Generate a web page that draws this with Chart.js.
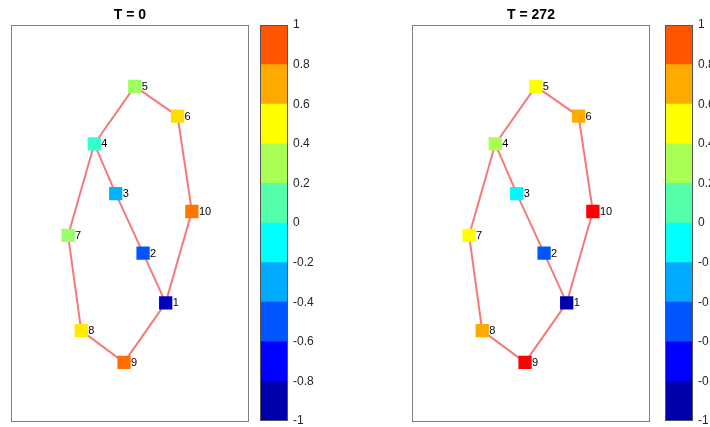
<!DOCTYPE html>
<html>
<head>
<meta charset="utf-8">
<script src="https://cdn.jsdelivr.net/npm/chart.js@4.4.1/dist/chart.umd.min.js"></script>
<style>
  html, body { margin: 0; padding: 0; background: #fff; overflow: hidden; }
  body { width: 710px; height: 427px; position: relative; }
  canvas { position: absolute; top: 0; }
</style>
</head>
<body>
<canvas id="net0" width="260" height="427" style="left:0px"></canvas>
<canvas id="bar0" width="100" height="427" style="left:250px"></canvas>
<canvas id="net1" width="260" height="427" style="left:401px"></canvas>
<canvas id="bar1" width="100" height="427" style="left:655px"></canvas>
<script>
// network nodes (ids 1..10), coordinates in plot units (0..10 on both axes)
const nodeIds = [1, 2, 3, 4, 5, 6, 7, 8, 9, 10];
const nodeX = [6.5, 5.55, 4.4, 3.5, 5.2, 7.0, 2.4, 2.95, 4.75, 7.6];
const nodeY = [3.0, 4.25, 5.75, 7.0, 8.45, 7.7, 4.7, 2.3, 1.5, 5.3];

// links between nodes
const edgeFrom = [5, 6, 10, 1, 9, 8, 7, 4, 4, 3, 2];
const edgeTo   = [6, 10, 1, 9, 8, 7, 4, 5, 3, 2, 1];

// node values at the two time steps
const valuesT0   = [-0.85, -0.5, -0.28, 0.02, 0.27, 0.58, 0.26, 0.55, 0.84, 0.82];
const valuesT272 = [-0.9, -0.5, -0.12, 0.3, 0.5, 0.7, 0.5, 0.7, 1.1, 1.1];

const panelTitles = ["T = 0", "T = 272"];
const colorbarTicks = [-1, -0.8, -0.6, -0.4, -0.2, 0, 0.2, 0.4, 0.6, 0.8, 1];

// jet(12) colormap, stop k sits at value -0.9 + 0.2k
const jetStops = [
  [0, 0, 170], [0, 0, 255], [0, 85, 255], [0, 170, 255], [0, 255, 255], [85, 255, 170],
  [170, 255, 85], [255, 255, 0], [255, 170, 0], [255, 85, 0], [255, 0, 0], [170, 0, 0]
];

function rgb(c) { return "rgb(" + c.map(Math.round).join(",") + ")"; }

function jetColor(v) {
  let t = (v + 0.9) / 0.2;
  t = Math.max(0, Math.min(jetStops.length - 1, t));
  const i = Math.min(Math.floor(t), jetStops.length - 2);
  const f = t - i;
  const a = jetStops[i], b = jetStops[i + 1];
  return rgb(a.map((c, k) => c + (b[k] - c) * f));
}

Chart.defaults.font.family = 'Helvetica, "Liberation Sans", Arial, sans-serif';
Chart.defaults.animation = false;

const framePlugin = {
  id: "frame",
  afterDraw(chart, args, opts) {
    const a = chart.chartArea, ctx = chart.ctx;
    ctx.save();
    ctx.strokeStyle = opts.color || "#808080";
    ctx.lineWidth = 1;
    ctx.strokeRect(Math.round(a.left) + 0.5, Math.round(a.top) + 0.5,
      Math.round(a.right - a.left) - 1, Math.round(a.bottom - a.top) - 1);
    ctx.restore();
  }
};

const nodeLabels = {
  id: "nodeLabels",
  afterDatasetsDraw(chart) {
    const ctx = chart.ctx;
    const meta = chart.getDatasetMeta(0);
    ctx.save();
    ctx.fillStyle = "#000";
    ctx.font = '11px Helvetica, "Liberation Sans", Arial, sans-serif';
    ctx.textBaseline = "middle";
    meta.data.forEach((pt, i) => ctx.fillText(String(nodeIds[i]), pt.x + 7, pt.y + 0.5));
    ctx.restore();
  }
};

function drawNetwork(id, title, values) {
  const pts = nodeIds.map((n, i) => ({ x: nodeX[i], y: nodeY[i] }));
  const edgeSets = edgeFrom.map((a, i) => ({
    type: "line",
    data: [pts[a - 1], pts[edgeTo[i] - 1]],
    borderColor: "#F47A7A",
    borderWidth: 2,
    pointRadius: 0,
    fill: false
  }));
  new Chart(document.getElementById(id), {
    type: "scatter",
    data: {
      datasets: [{
        data: pts,
        pointStyle: "rect",
        pointRadius: 9.4,
        pointHoverRadius: 9.4,
        borderWidth: 0,
        backgroundColor: values.map(jetColor)
      }].concat(edgeSets)
    },
    options: {
      responsive: false,
      layout: { autoPadding: false, padding: { left: 11, right: 11, top: 0, bottom: 5 } },
      scales: {
        x: { min: 0, max: 10, display: false },
        y: { min: 0, max: 10, display: false }
      },
      plugins: {
        legend: { display: false },
        tooltip: { enabled: false },
        title: {
          display: true,
          text: title,
          color: "#000",
          font: { size: 14, weight: "bold" },
          padding: { top: 7, bottom: 1 }
        },
        frame: { color: "#808080" }
      }
    },
    plugins: [framePlugin, nodeLabels]
  });
}

function drawColorbar(id) {
  const bands = colorbarTicks.slice(0, -1).map((lo, k) => ({
    data: [[lo, colorbarTicks[k + 1]]],
    backgroundColor: rgb(jetStops[k]),
    borderWidth: 0,
    grouped: false,
    barPercentage: 1,
    categoryPercentage: 1
  }));
  new Chart(document.getElementById(id), {
    type: "bar",
    data: { labels: ["c"], datasets: bands },
    options: {
      responsive: false,
      layout: { autoPadding: false, padding: { left: 10, right: 22, top: 25, bottom: 6 } },
      scales: {
        x: { display: false },
        y: {
          position: "right",
          min: -1, max: 1,
          afterBuildTicks: s => { s.ticks = colorbarTicks.map(v => ({ value: v })); },
          afterFit: s => { s.width = 40; s.paddingTop = 0; s.paddingBottom = 0; },
          grid: { display: false, drawTicks: false },
          border: { display: false },
          ticks: {
            color: "#262626",
            padding: 5,
            font: { size: 12 },
            callback: v => String(Math.round(v * 10) / 10)
          }
        }
      },
      plugins: {
        legend: { display: false },
        tooltip: { enabled: false },
        frame: { color: "#555" }
      }
    },
    plugins: [framePlugin]
  });
}

drawNetwork("net0", panelTitles[0], valuesT0);
drawColorbar("bar0");
drawNetwork("net1", panelTitles[1], valuesT272);
drawColorbar("bar1");
</script>
</body>
</html>
